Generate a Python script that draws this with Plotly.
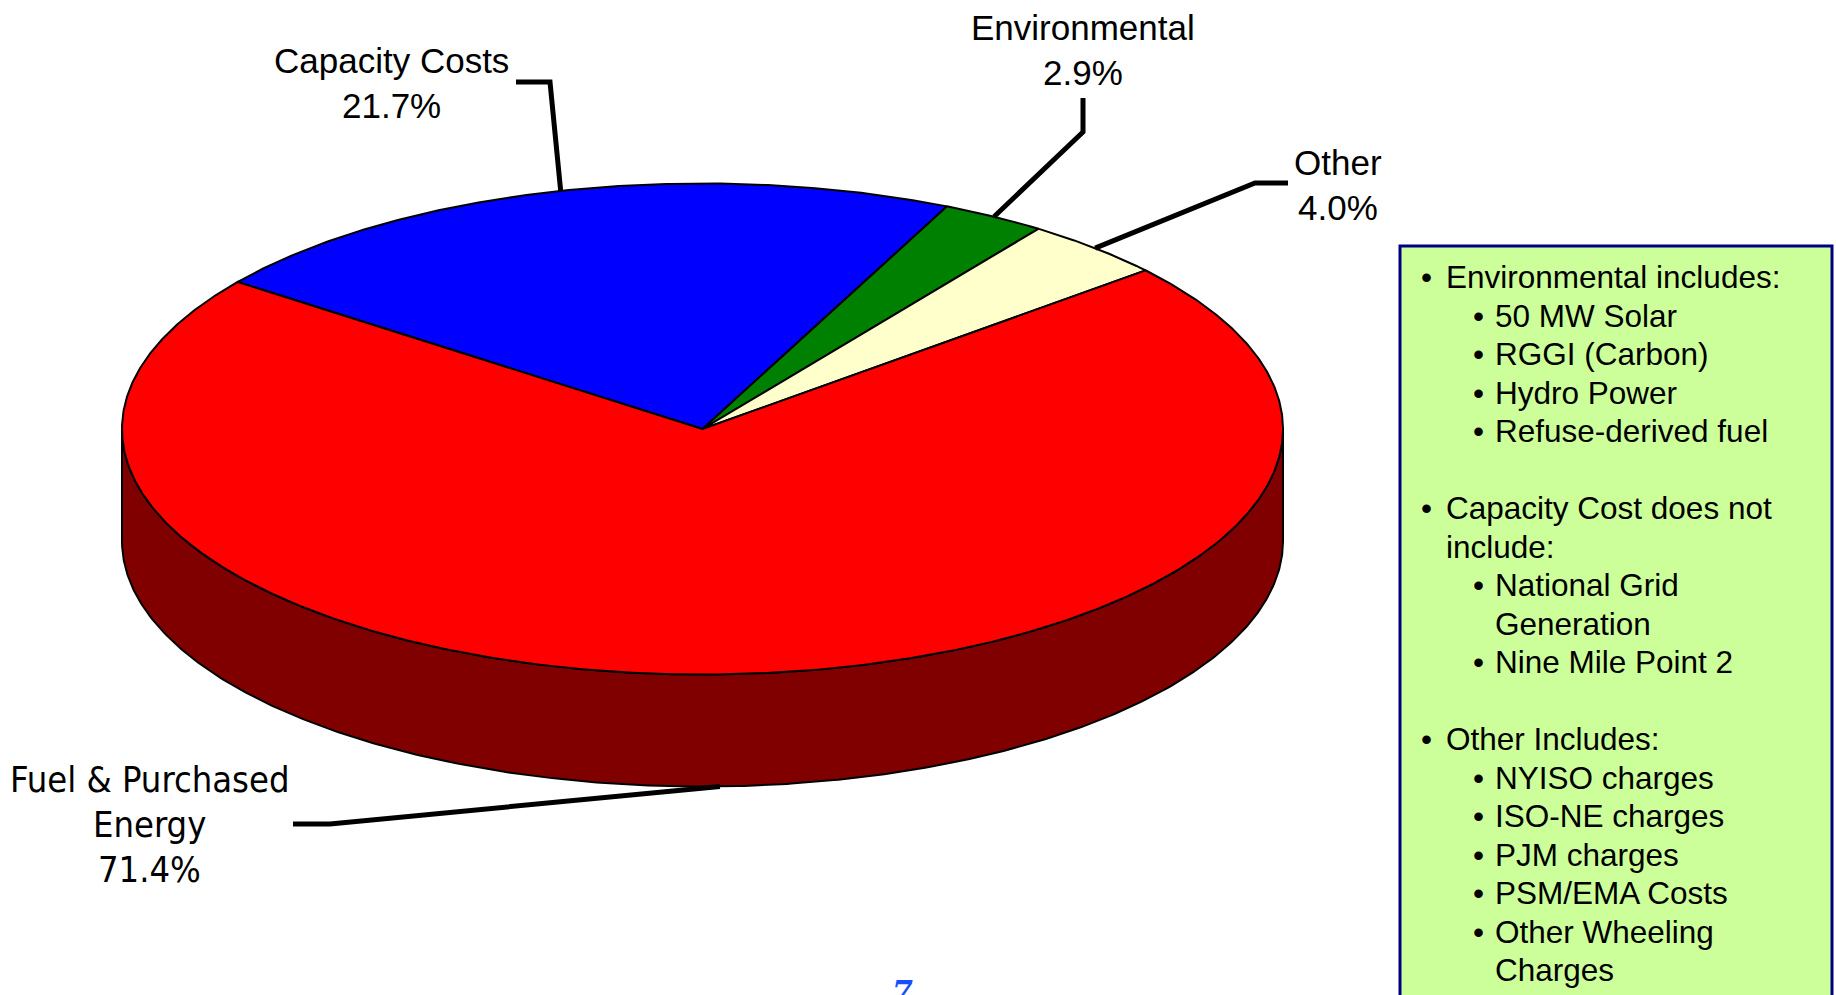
import numpy as np
import plotly.graph_objects as go

# ---------------- data ----------------
categories = ["Capacity Costs", "Environmental", "Other", "Fuel & Purchased Energy"]
values = [21.7, 2.9, 4.0, 71.4]
label_lines = [["Capacity Costs"], ["Environmental"], ["Other"], ["Fuel & Purchased", "Energy"]]
colors = ["#0000FF", "#008000", "#FFFFCC", "#FF0000"]
side_colors = ["#00007F", "#004000", "#80806A", "#800000"]

notes = [
    ("b0", "Environmental includes:"),
    ("b1", "50 MW Solar"),
    ("b1", "RGGI (Carbon)"),
    ("b1", "Hydro Power"),
    ("b1", "Refuse-derived fuel"),
    ("", ""),
    ("b0", "Capacity Cost does not"),
    ("c0", "include:"),
    ("b1", "National Grid"),
    ("c1", "Generation"),
    ("b1", "Nine Mile Point 2"),
    ("", ""),
    ("b0", "Other Includes:"),
    ("b1", "NYISO charges"),
    ("b1", "ISO-NE charges"),
    ("b1", "PJM charges"),
    ("b1", "PSM/EMA Costs"),
    ("b1", "Other Wheeling"),
    ("c1", "Charges"),
]
page_number = "7"

# ---------------- layout constants (pixel space) ----------------
W, H = 1836, 995
CX, CY, RX, RY, DEPTH = 702.5, 429.0, 580.5, 245.5, 112.0
START = 143.2  # degrees, slices go clockwise

# label layout: text centre x, centre y of first line, elbow points of leader
label_pos = [
    dict(x=391, y=60, size=35, elbow=[(550, 82), (516, 82)]),
    dict(x=1083, y=27, size=35, elbow=[(1083, 132), (1083, 98)]),
    dict(x=1338, y=162, size=35, elbow=[(1255, 183), (1288, 183)]),
    dict(x=149, y=779, size=36, elbow=[(330, 824), (293, 824)]),
]
LINE_GAP = 45

fig = go.Figure()


def ell(theta_deg, drop=0.0):
    t = np.radians(theta_deg)
    return CX + RX * np.cos(t), CY - RY * np.sin(t) + drop


total = float(sum(values))
bounds = [START]
for v in values:
    bounds.append(bounds[-1] - 360.0 * v / total)

# side walls (front half only)
for i, v in enumerate(values):
    a0, a1 = bounds[i], bounds[i + 1]
    th = np.linspace(a0, a1, 600)
    vis = np.sin(np.radians(th)) <= 1e-9
    if not vis.any():
        continue
    th = np.sort(th[vis])
    xt, yt = ell(th)
    xb, yb = ell(th[::-1], DEPTH)
    fig.add_trace(go.Scatter(
        x=np.concatenate([xt, xb, xt[:1]]), y=np.concatenate([yt, yb, yt[:1]]),
        mode="lines", fill="toself", fillcolor=side_colors[i],
        line=dict(color="black", width=2), hoverinfo="skip", showlegend=False))

# top faces
for i, v in enumerate(values):
    a0, a1 = bounds[i], bounds[i + 1]
    th = np.linspace(a0, a1, max(8, int(abs(a0 - a1) * 3)))
    xa, ya = ell(th)
    fig.add_trace(go.Scatter(
        x=np.concatenate([[CX], xa, [CX]]), y=np.concatenate([[CY], ya, [CY]]),
        mode="lines", fill="toself", fillcolor=colors[i],
        line=dict(color="black", width=2), hoverinfo="text",
        text=f"{categories[i]}: {v:.1f}%", showlegend=False))

# leader lines + labels
annotations = []
for i, v in enumerate(values):
    mid = (bounds[i] + bounds[i + 1]) / 2.0
    front = np.sin(np.radians(mid)) < 0
    ax, ay = ell(mid, DEPTH if front else 0.0)
    pts = [(ax, ay)] + label_pos[i]["elbow"]
    fig.add_trace(go.Scatter(
        x=[p[0] for p in pts], y=[p[1] for p in pts], mode="lines",
        line=dict(color="black", width=5), hoverinfo="skip", showlegend=False))
    lines = label_lines[i] + [f"{v:.1f}%"]
    lp = label_pos[i]
    fam = "Liberation Sans Narrow, Arial Narrow, DejaVu Sans Condensed, Liberation Sans, Arial" if i == 3 \
        else "Liberation Sans, Arial, sans-serif"
    for k, t in enumerate(lines):
        annotations.append(dict(
            x=lp["x"], y=lp["y"] + k * LINE_GAP, xref="x", yref="y", text=t,
            showarrow=False, xanchor="center", yanchor="middle",
            font=dict(family=fam, size=lp["size"], color="black")))

# notes box
fig.add_shape(type="rect", xref="x", yref="y", x0=1400, y0=246, x1=1832, y1=1010,
              fillcolor="#CCFF99", line=dict(color="#000080", width=3), layer="below")
NOTE_Y0, NOTE_GAP = 277, 38.5
for k, (kind, txt) in enumerate(notes):
    if not kind:
        continue
    y = NOTE_Y0 + k * NOTE_GAP
    lvl = int(kind[1])
    bx = 1422 if lvl == 0 else 1474
    tx = 1444 if lvl == 0 else 1493
    if kind[0] == "b":
        annotations.append(dict(x=bx - 3, y=y, xref="x", yref="y", text="•", showarrow=False,
                                xanchor="left", yanchor="middle",
                                font=dict(family="Liberation Sans, Arial", size=31.5, color="black")))
    annotations.append(dict(x=tx, y=y, xref="x", yref="y", text=txt, showarrow=False,
                            xanchor="left", yanchor="middle",
                            font=dict(family="Liberation Sans, Arial", size=31.5, color="black")))

annotations.append(dict(x=902, y=972, xref="x", yref="y", text=f"<b><i>{page_number}</i></b>",
                        showarrow=False, xanchor="center", yanchor="top",
                        font=dict(family="DejaVu Serif, serif", size=30, color="#1A4CFF")))

fig.update_layout(
    width=W, height=H, margin=dict(l=0, r=0, t=0, b=0),
    paper_bgcolor="white", plot_bgcolor="white",
    xaxis=dict(range=[0, W], visible=False, fixedrange=True),
    yaxis=dict(range=[H, 0], visible=False, fixedrange=True),
    annotations=annotations, showlegend=False,
)

fig.write_html("out.html")
